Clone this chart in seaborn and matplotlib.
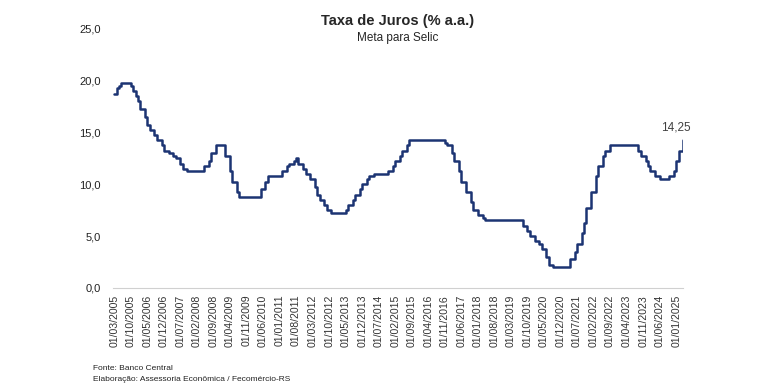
import numpy as np
import pandas as pd
import matplotlib
matplotlib.use('Agg')
import matplotlib.pyplot as plt
import seaborn as sns

# Meta Selic (% a.a.), valor no primeiro dia de cada mes, 03/2005 a 04/2025
selic_2005 = [18.75, 19.25, 19.50, 19.75, 19.75, 19.75, 19.75, 19.50, 19.00, 18.50]
selic_2006 = [18.00, 17.25, 17.25, 16.50, 15.75, 15.25, 15.25, 14.75, 14.25, 14.25, 13.75, 13.25]
selic_2007 = [13.25, 13.00, 13.00, 12.75, 12.50, 12.50, 12.00, 11.50, 11.50, 11.25, 11.25, 11.25]
selic_2008 = [11.25, 11.25, 11.25, 11.25, 11.75, 11.75, 12.25, 13.00, 13.00, 13.75, 13.75, 13.75]
selic_2009 = [13.75, 12.75, 12.75, 11.25, 10.25, 10.25, 9.25, 8.75, 8.75, 8.75, 8.75, 8.75]
selic_2010 = [8.75, 8.75, 8.75, 8.75, 9.50, 9.50, 10.25, 10.75, 10.75, 10.75, 10.75, 10.75]
selic_2011 = [10.75, 11.25, 11.25, 11.75, 12.00, 12.00, 12.25, 12.50, 12.00, 12.00, 11.50, 11.00]
selic_2012 = [11.00, 10.50, 10.50, 9.75, 9.00, 8.50, 8.50, 8.00, 7.50, 7.50, 7.25, 7.25]
selic_2013 = [7.25, 7.25, 7.25, 7.25, 7.50, 8.00, 8.00, 8.50, 9.00, 9.00, 9.50, 10.00]
selic_2014 = [10.00, 10.50, 10.75, 10.75, 11.00, 11.00, 11.00, 11.00, 11.00, 11.00, 11.25, 11.25]
selic_2015 = [11.75, 12.25, 12.25, 12.75, 13.25, 13.25, 13.75, 14.25, 14.25, 14.25, 14.25, 14.25]
selic_2016 = [14.25, 14.25, 14.25, 14.25, 14.25, 14.25, 14.25, 14.25, 14.25, 14.25, 14.00, 13.75]
selic_2017 = [13.75, 13.00, 12.25, 12.25, 11.25, 10.25, 10.25, 9.25, 9.25, 8.25, 7.50, 7.50]
selic_2018 = [7.00, 7.00, 6.75, 6.50, 6.50, 6.50, 6.50, 6.50, 6.50, 6.50, 6.50, 6.50]
selic_2019 = [6.50, 6.50, 6.50, 6.50, 6.50, 6.50, 6.50, 6.00, 6.00, 5.50, 5.00, 5.00]
selic_2020 = [4.50, 4.50, 4.25, 3.75, 3.75, 3.00, 2.25, 2.25, 2.00, 2.00, 2.00, 2.00]
selic_2021 = [2.00, 2.00, 2.00, 2.75, 2.75, 3.50, 4.25, 4.25, 5.25, 6.25, 7.75, 7.75]
selic_2022 = [9.25, 9.25, 10.75, 11.75, 11.75, 12.75, 13.25, 13.25, 13.75, 13.75, 13.75, 13.75]
selic_2023 = [13.75, 13.75, 13.75, 13.75, 13.75, 13.75, 13.75, 13.75, 13.25, 12.75, 12.75, 12.25]
selic_2024 = [11.75, 11.25, 11.25, 10.75, 10.75, 10.50, 10.50, 10.50, 10.50, 10.75, 10.75, 11.25]
selic_2025 = [12.25, 13.25, 13.25, 14.25]

selic = (selic_2005 + selic_2006 + selic_2007 + selic_2008 + selic_2009 + selic_2010
         + selic_2011 + selic_2012 + selic_2013 + selic_2014 + selic_2015 + selic_2016
         + selic_2017 + selic_2018 + selic_2019 + selic_2020 + selic_2021 + selic_2022
         + selic_2023 + selic_2024 + selic_2025)

dates = pd.date_range('2005-03-01', periods=len(selic), freq='MS')
df = pd.DataFrame({'pos': np.arange(len(selic)), 'selic': selic, 'data': dates})

tick_pos = df['pos'][::7]
tick_labels = df['data'][::7].dt.strftime('%d/%m/%Y')

sns.set_style('white')
plt.rcParams['font.family'] = ['Liberation Sans', 'DejaVu Sans']

fig = plt.figure(figsize=(7.8, 3.9), dpi=100)
ax = fig.add_axes([0.145, 0.262, 0.731, 0.664])

sns.lineplot(data=df, x='pos', y='selic', ax=ax, color='#1c3473', linewidth=1.8,
             drawstyle='steps-post')

ax.set_xlim(-0.5, len(selic) - 1)
ax.set_ylim(0, 25)
ax.set_yticks(np.arange(0, 26, 5))
ax.set_yticklabels([f'{v:.1f}'.replace('.', ',') for v in np.arange(0, 26, 5)], fontsize=8, color='#222222')
ax.set_xticks(tick_pos)
ax.set_xticklabels(tick_labels, rotation=90, fontsize=7.6, color='#333333')
ax.tick_params(axis='x', length=3, color='#d0d0d0', pad=2)
ax.tick_params(axis='y', length=0, pad=9)
ax.set_xlabel('')
ax.set_ylabel('')

for s in ['top', 'right', 'left']:
    ax.spines[s].set_visible(False)
ax.spines['bottom'].set_color('#d0d0d0')
ax.spines['bottom'].set_linewidth(0.8)

# rotulo do ultimo valor
ax.annotate(f'{selic[-1]:.2f}'.replace('.', ','), (df['pos'].iloc[-1], selic[-1]),
            xytext=(-5, 5), textcoords='offset points', ha='center', va='bottom',
            fontsize=8.5, color='#404040')

fig.text(0.51, 0.935, 'Taxa de Juros (% a.a.)', ha='center', fontsize=10.5, fontweight='bold')
fig.text(0.51, 0.895, 'Meta para Selic', ha='center', fontsize=8.5)

fig.text(0.119, 0.052, 'Fonte: Banco Central', fontsize=6, color='#222222')
fig.text(0.119, 0.024, 'Elaboração: Assessoria Econômica / Fecomércio-RS', fontsize=6, color='#222222')

fig.savefig('out.png', dpi=100)
